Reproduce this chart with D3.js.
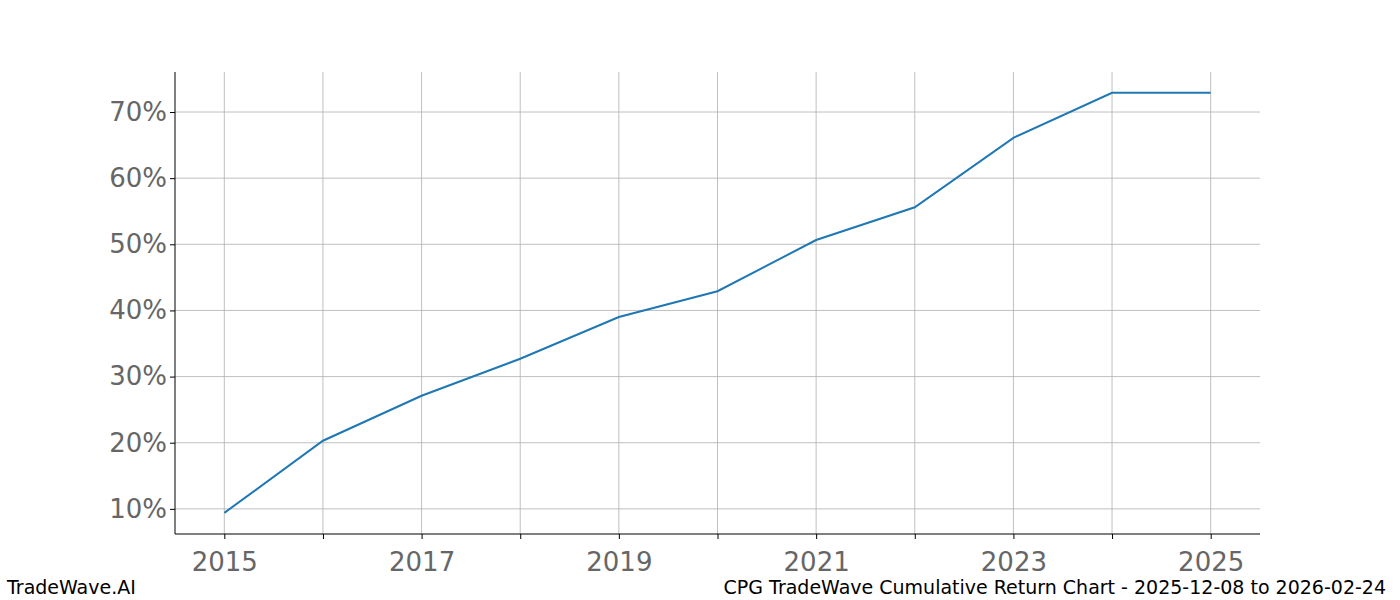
<!DOCTYPE html>
<html><head><meta charset="utf-8">
<script src="https://cdn.jsdelivr.net/npm/d3@7"></script>
<style>body{margin:0;background:#fff}text{font-family:"DejaVu Sans",sans-serif}</style>
</head><body><svg id="c" width="1400" height="600"></svg>
<script>
const years=[2015,2016,2017,2018,2019,2020,2021,2022,2023,2024,2025];
const returns=[9.4,20.3,27.1,32.7,39.0,42.9,50.65,55.6,66.1,72.9,72.9];
const yTicks=[10,20,30,40,50,60,70];
const xLabels=[2015,2017,2019,2021,2023,2025];
const svg=d3.select("#c");
const L=175,R=1260,T=72,B=534;
const x=d3.scaleLinear().domain([2014.5,2025.5]).range([L,R]);
const y=d3.scaleLinear().domain([6.2,76.05]).range([B,T]);
const g=svg.append("g");
years.forEach(v=>g.append("line").attr("x1",x(v)).attr("x2",x(v)).attr("y1",T).attr("y2",B).attr("stroke","#b0b0b0").attr("stroke-width",0.8));
yTicks.forEach(v=>g.append("line").attr("x1",L).attr("x2",R).attr("y1",y(v)).attr("y2",y(v)).attr("stroke","#b0b0b0").attr("stroke-width",0.8));
const xa=svg.append("g").attr("transform",`translate(0,${B})`).call(d3.axisBottom(x).tickValues(years).tickSize(5).tickFormat(d=>xLabels.includes(d)?d:""));
const ya=svg.append("g").attr("transform",`translate(${L},0)`).call(d3.axisLeft(y).tickValues(yTicks).tickSize(5).tickFormat(d=>d+"%"));
[xa,ya].forEach(a=>{a.select(".domain").attr("stroke","#000");a.selectAll(".tick line").attr("stroke","#000");a.selectAll("text").attr("fill","#666").style("font-size","26px").style("font-family","DejaVu Sans");});
xa.select(".domain").attr("d",`M${L},0H${R}`);
ya.select(".domain").attr("d",`M0,${T}V${B}`);
xa.selectAll("text").attr("dy","1.1em");
svg.append("path").datum(years.map((v,i)=>[v,returns[i]])).attr("fill","none").attr("stroke","#1f77b4").attr("stroke-width",2)
 .attr("d",d3.line().x(d=>x(d[0])).y(d=>y(d[1])));
svg.append("text").attr("x",7).attr("y",594).style("font-size","19px").text("TradeWave.AI");
svg.append("text").attr("x",1386).attr("y",594).attr("text-anchor","end").style("font-size","19px").text("CPG TradeWave Cumulative Return Chart - 2025-12-08 to 2026-02-24");
</script></body></html>
